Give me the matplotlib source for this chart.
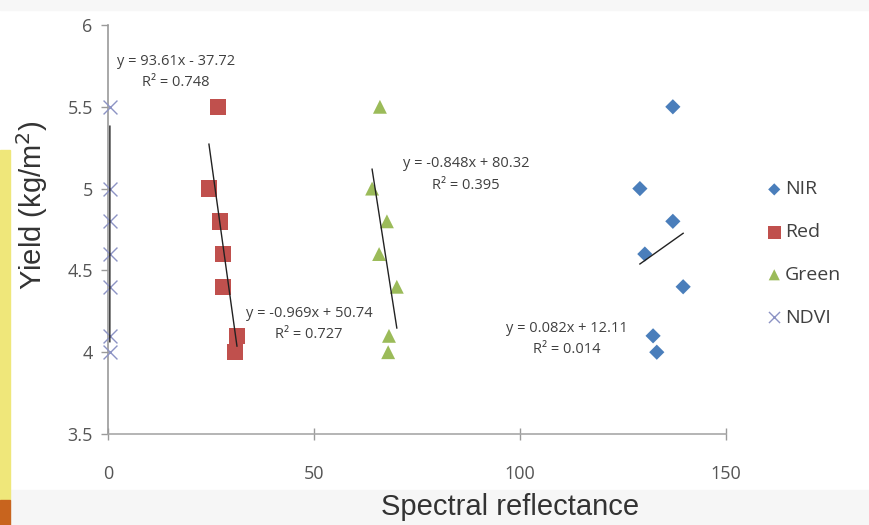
import numpy as np
import matplotlib
matplotlib.use("Agg")
import matplotlib.pyplot as plt
from matplotlib.patches import Rectangle

# yield values shared by all bands
yield_vals = [5.5, 5.0, 4.8, 4.6, 4.4, 4.1, 4.0]

nir_x = [137.1, 129.1, 137.1, 130.3, 139.6, 132.3, 133.2]
red_x = [26.7, 24.5, 27.2, 27.9, 27.9, 31.3, 30.8]
green_x = [66.0, 64.1, 67.7, 65.8, 70.1, 68.2, 68.0]
ndvi_x = [0.458, 0.456, 0.452, 0.450, 0.447, 0.449, 0.446]

series_names = ["NIR", "Red", "Green", "NDVI"]
equations = ["y = 0.082x + 12.11\nR\u00b2 = 0.014",
             "y = -0.969x + 50.74\nR\u00b2 = 0.727",
             "y = -0.848x + 80.32\nR\u00b2 = 0.395",
             "y = 93.61x - 37.72\nR\u00b2 = 0.748"]
eq_pos = [(111.4, 4.081), (48.8, 4.172), (86.9, 5.086), (16.5, 5.713)]

colors = ["#4a7ebb", "#c0504d", "#9bbb59", "#8c93c4"]
markers = ["D", "s", "^", "x"]
sizes = [60, 140, 100, 100]

fig = plt.figure(figsize=(8.69, 5.25), dpi=100)
fig.patch.set_facecolor("white")
# photo-crop edges of the original picture
fig.patches.append(Rectangle((0, 0), 1, 35 / 525, transform=fig.transFigure,
                             color="#f6f6f6", zorder=-5))
fig.patches.append(Rectangle((0, 1 - 10 / 525), 1, 10 / 525, transform=fig.transFigure,
                             color="#f7f7f7", zorder=-5))
fig.patches.append(Rectangle((0, 25 / 525), 10 / 869, 350 / 525, transform=fig.transFigure,
                             color="#efe77a", zorder=-4))
fig.patches.append(Rectangle((0, 0), 10 / 869, 25 / 525, transform=fig.transFigure,
                             color="#c8641e", zorder=-4))

ax = fig.add_axes([108 / 869, 1 - 434 / 525, 618 / 869, 409 / 525])
ax.set_facecolor("none")

all_x = [nir_x, red_x, green_x, ndvi_x]
handles = []
for xs, name, c, m, s in zip(all_x, series_names, colors, markers, sizes):
    if m == "x":
        h = ax.scatter(xs, yield_vals, marker=m, s=s, color=c, linewidths=1.0,
                       label=name, zorder=3, clip_on=False)
    else:
        h = ax.scatter(xs, yield_vals, marker=m, s=s, color=c, edgecolors="none",
                       label=name, zorder=3, clip_on=False)
    handles.append(h)
    # linear trendline over the data range
    k, b = np.polyfit(xs, yield_vals, 1)
    xr = np.array([min(xs), max(xs)])
    ax.plot(xr, k * xr + b, color="#222222", lw=1.0, zorder=4)

for txt, (px, py) in zip(equations, eq_pos):
    ax.text(px, py, txt, ha="center", va="center", fontsize=10.5, color="#404040",
            family="Open Sans", linespacing=1.6)

ax.set_xlim(0, 150)
ax.set_ylim(3.5, 6)
ax.set_xticks([0, 50, 100, 150])
ax.set_yticks([3.5, 4, 4.5, 5, 5.5, 6])
ax.set_yticklabels(["3.5", "4", "4.5", "5", "5.5", "6"])

for side in ["top", "right"]:
    ax.spines[side].set_visible(False)
ax.spines["left"].set_color("#9a9a9a")
ax.spines["bottom"].set_color("#a8a8a8")
ax.spines["left"].set_linewidth(1.2)
ax.spines["bottom"].set_linewidth(1.2)
ax.tick_params(axis="both", colors="#9a9a9a", length=5, width=1.0,
               labelcolor="#555555", labelsize=13)
ax.tick_params(axis="x", direction="inout", length=8, pad=18)
ax.tick_params(axis="y", pad=6)
for lab in ax.get_xticklabels() + ax.get_yticklabels():
    lab.set_family("Open Sans")

fig.text(32 / 869, 1 - 205 / 525, "Yield (kg/m$^2$)", rotation=90, ha="center",
         va="center", fontsize=21, color="#333333", family="Liberation Sans")
fig.text(510 / 869, 1 - 507 / 525, "Spectral reflectance", ha="center", va="center",
         fontsize=21, color="#333333", family="Liberation Sans")

leg = ax.legend(handles=handles, loc="upper left", bbox_to_anchor=(748 / 869, 1 - 163 / 525),
                bbox_transform=fig.transFigure, frameon=False,
                labelspacing=1.27, handletextpad=0.1, handlelength=0.9,
                markerscale=0.8, prop={"family": "Open Sans", "size": 14})
for t in leg.get_texts():
    t.set_color("#404040")

fig.savefig("out.png", dpi=100)
